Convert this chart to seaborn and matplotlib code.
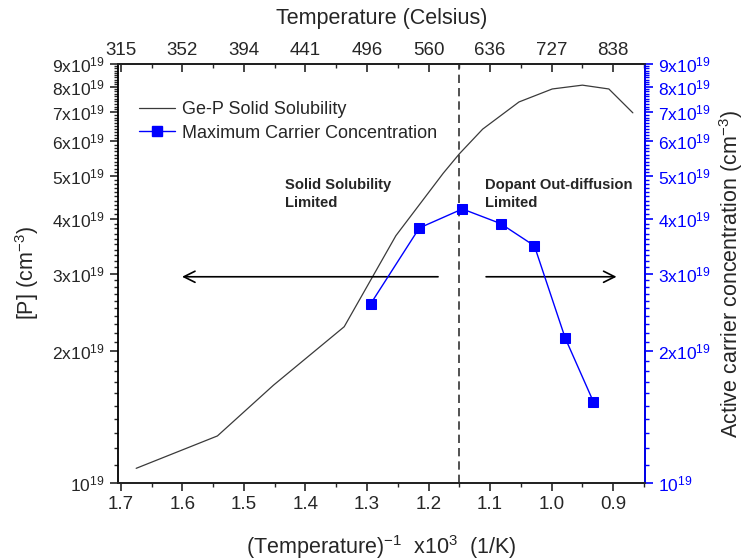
import numpy as np
import pandas as pd
import matplotlib
matplotlib.use("Agg")
import matplotlib.pyplot as plt
import seaborn as sns
from matplotlib.ticker import FixedLocator, FixedFormatter, MultipleLocator
from matplotlib.lines import Line2D


# Ge-P solid solubility curve (inverse temperature x1000, [P] in cm^-3)
sol_x = [1.675, 1.543, 1.452, 1.337, 1.253, 1.176, 1.150, 1.112, 1.053, 0.999, 0.950, 0.907, 0.868]
sol_y = [1.08e19, 1.28e19, 1.67e19, 2.27e19, 3.66e19, 5.08e19, 5.62e19, 6.40e19, 7.38e19, 7.90e19, 8.06e19, 7.90e19, 6.97e19]

# maximum active carrier concentration
car_x = [1.294, 1.215, 1.145, 1.083, 1.028, 0.978, 0.932]
car_y = [2.56e19, 3.81e19, 4.21e19, 3.90e19, 3.47e19, 2.14e19, 1.53e19]

y_ticks = [1e19, 2e19, 3e19, 4e19, 5e19, 6e19, 7e19, 8e19, 9e19]
y_labels = ["10$^{19}$"] + [f"{i}x10$^{{19}}$" for i in range(2, 10)]
x_ticks = [1.7, 1.6, 1.5, 1.4, 1.3, 1.2, 1.1, 1.0, 0.9]
x_labels = ["1.7", "1.6", "1.5", "1.4", "1.3", "1.2", "1.1", "1.0", "0.9"]
celsius_labels = ["315", "352", "394", "441", "496", "560", "636", "727", "838"]

sol_df = pd.DataFrame({"x": sol_x, "y": sol_y})
car_df = pd.DataFrame({"x": car_x, "y": car_y})

sns.set_style("ticks")
plt.rcParams["font.family"] = ["Liberation Sans", "DejaVu Sans"]
plt.rcParams["mathtext.default"] = "regular"

fig = plt.figure(figsize=(7.45, 5.6), dpi=100)
ax = fig.add_axes([0.158, 0.1375, 0.708, 0.748])
ax2 = ax.twinx()

blue = "#0000ff"

sns.lineplot(data=sol_df, x="x", y="y", ax=ax, color="#3a3a3a", linewidth=0.9,
             estimator=None, sort=False)
sns.lineplot(data=car_df, x="x", y="y", ax=ax2, color=blue, linewidth=1.0,
             marker="s", markersize=6.5, markeredgecolor=blue, estimator=None, sort=False)

for a in (ax, ax2):
    a.set_yscale("log")
    a.set_ylim(1e19, 9e19)
    a.yaxis.set_major_locator(FixedLocator(y_ticks))
    a.yaxis.set_major_formatter(FixedFormatter(y_labels))
    a.yaxis.set_minor_locator(MultipleLocator(1e18))
    a.yaxis.set_minor_formatter(FixedFormatter([]))
    a.set_xlim(1.705, 0.848)

ax.set_xticks(x_ticks)
ax.set_xticklabels(x_labels)
ax.xaxis.set_minor_locator(MultipleLocator(0.05))

ax.tick_params(axis="x", which="major", direction="out", length=6, width=1.2, labelsize=13.5)
ax.tick_params(axis="y", which="major", direction="out", length=6, width=1.2, labelsize=12.5)
ax.tick_params(axis="both", which="minor", direction="out", length=3, width=1.0)
ax2.tick_params(axis="y", which="major", direction="out", length=6, width=1.2, labelsize=12.5,
                colors=blue)
ax2.tick_params(axis="y", which="minor", direction="out", length=3, width=1.0, colors=blue)

for s in ax.spines.values():
    s.set_linewidth(1.3)
    s.set_color("black")
for name, s in ax2.spines.items():
    s.set_linewidth(1.3)
ax2.spines["right"].set_color(blue)
ax2.spines["left"].set_visible(False)

# top temperature axis
top = ax.secondary_xaxis("top")
top.set_xticks(x_ticks)
top.set_xticklabels(celsius_labels)
top.xaxis.set_minor_locator(MultipleLocator(0.05))
top.tick_params(axis="x", which="major", direction="in", length=6, width=1.2, labelsize=13.5)
top.tick_params(axis="x", which="minor", direction="in", length=3, width=1.0)
top.spines["top"].set_linewidth(1.3)
top.set_xlabel("Temperature (Celsius)", fontsize=15.5, labelpad=13)

ax.set_xlabel("(Temperature)$^{-1}$  x10$^{3}$  (1/K)", fontsize=15.5, labelpad=14)
ax.set_ylabel("[P] (cm$^{-3}$)", fontsize=15.5)
ax.yaxis.set_label_coords(-0.145, 0.5)
ax2.set_ylabel("Active carrier concentration (cm$^{-3}$)", fontsize=15.5)
ax2.yaxis.set_label_coords(1.136, 0.5)

# dashed divider and regime annotations
ax.axvline(1.15, color="#333333", linestyle=(0, (5, 3)), linewidth=1.2)
ax.annotate("", xy=(1.605, 2.95e19), xytext=(1.18, 2.95e19),
            arrowprops=dict(arrowstyle="->", color="black", lw=1.2, mutation_scale=20))
ax.annotate("", xy=(0.89, 2.95e19), xytext=(1.111, 2.95e19),
            arrowprops=dict(arrowstyle="->", color="black", lw=1.2, mutation_scale=20))
ax.text(1.434, 4.95e19, "Solid Solubility\nLimited", fontsize=10.6, fontweight="bold",
        va="top", ha="left", linespacing=1.4)
ax.text(1.109, 4.95e19, "Dopant Out-diffusion\nLimited", fontsize=10.6, fontweight="bold",
        va="top", ha="left", linespacing=1.4)

handles = [Line2D([], [], color="#3a3a3a", linewidth=0.9),
           Line2D([], [], color=blue, linewidth=1.0, marker="s", markersize=6.5)]
ax2.legend(handles, ["Ge-P Solid Solubility", "Maximum Carrier Concentration"],
           loc="upper left", bbox_to_anchor=(0.01, 0.95), frameon=False, fontsize=13,
           handlelength=2.0, handletextpad=0.35, labelspacing=0.35)

fig.savefig("out.png", dpi=100)
